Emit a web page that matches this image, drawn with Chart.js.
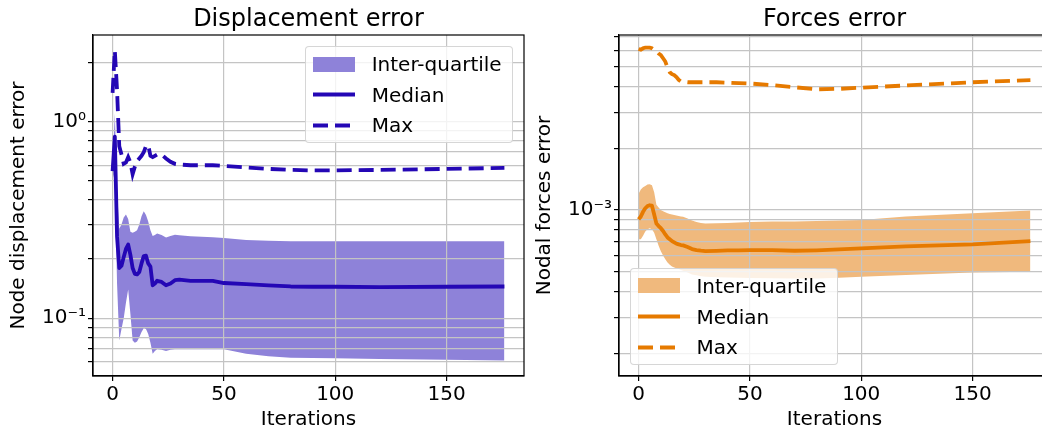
<!DOCTYPE html>
<html>
<head>
<meta charset="utf-8">
<script src="https://cdn.jsdelivr.net/npm/chart.js@4.4.1/dist/chart.umd.min.js"></script>
<style>
  html, body { margin: 0; padding: 0; background: #fff; overflow: hidden; }
  #page { position: relative; width: 1042px; height: 432px; overflow: hidden; }
  .box { position: absolute; top: 0; width: 526px; height: 432px; }
  .legend { position: absolute; box-sizing: border-box; border: 1px solid rgba(204,204,204,0.8);
            border-radius: 4px; background: rgba(255,255,255,0.8); padding-top: 2.2px;
            font-family: 'DejaVu Sans'; font-size: 20px; color: #000; }
  .legend .row { display: flex; align-items: center; height: 30.6px; white-space: nowrap; }
  .legend svg { margin-left: 7px; margin-right: 16.7px; flex: none; }
</style>
</head>
<body>
<div id="page">
  <div class="box" style="left:0"><canvas id="disp" width="526" height="432"></canvas><div class="legend" id="dispLegend"></div></div>
  <div class="box" style="left:526px"><canvas id="force" width="526" height="432"></canvas><div class="legend" id="forceLegend"></div></div>
</div>
<script>
// iterations where values were read
const iterations = [0,1,2,3,4,5,6,7,8,9,10,11,12,13,14,15,16,17,18,19,20,
  22,24,26,28,30,35,40,45,50,60,70,80,90,100,120,150,176];

// Node displacement error
const dispMax = [1.40,2.3,1.45,0.75,0.68,0.61,0.62,0.66,0.62,0.54,0.59,0.63,0.65,0.67,0.70,0.75,0.76,0.67,0.66,0.67,0.68,
  0.68,0.65,0.625,0.61,0.605,0.60,0.60,0.60,0.595,0.585,0.575,0.568,0.565,0.565,0.568,0.575,0.582];
const dispMedian = [0.56,0.84,0.26,0.18,0.185,0.205,0.225,0.237,0.21,0.18,0.168,0.167,0.172,0.19,0.207,0.208,0.19,0.183,0.147,0.15,0.155,
  0.153,0.147,0.15,0.156,0.157,0.155,0.155,0.155,0.151,0.149,0.147,0.145,0.1445,0.1445,0.144,0.1445,0.145];
const dispQ3 = [0.6,1.1,0.45,0.285,0.30,0.325,0.337,0.32,0.275,0.272,0.275,0.28,0.30,0.33,0.35,0.335,0.31,0.28,0.262,0.265,0.27,
  0.265,0.257,0.262,0.266,0.264,0.261,0.26,0.258,0.256,0.25,0.248,0.246,0.246,0.246,0.246,0.246,0.246];
const dispQ1 = [0.55,0.5,0.15,0.077,0.088,0.10,0.12,0.14,0.105,0.077,0.075,0.076,0.08,0.085,0.089,0.088,0.083,0.075,0.066,0.068,0.0694,
  0.069,0.068,0.069,0.0694,0.0694,0.0694,0.0694,0.0694,0.0694,0.066,0.064,0.063,0.0627,0.0625,0.062,0.0615,0.061];

// Nodal forces error
const forceMax = [6.1e-3,6.05e-3,6.15e-3,6.2e-3,6.2e-3,6.2e-3,6.15e-3,6.05e-3,5.95e-3,5.8e-3,5.7e-3,5.5e-3,5.3e-3,4.95e-3,4.7e-3,4.6e-3,4.55e-3,4.45e-3,4.32e-3,4.24e-3,4.22e-3,
  4.2e-3,4.2e-3,4.2e-3,4.2e-3,4.2e-3,4.2e-3,4.18e-3,4.16e-3,4.14e-3,4.07e-3,3.97e-3,3.88e-3,3.9e-3,3.95e-3,4.05e-3,4.2e-3,4.3e-3];
const forceMedian = [9.0e-4,9.3e-4,9.8e-4,1.02e-3,1.045e-3,1.055e-3,1.05e-3,9.5e-4,8.6e-4,8.35e-4,8.15e-4,7.9e-4,7.6e-4,7.35e-4,7.2e-4,7.05e-4,6.95e-4,6.85e-4,6.8e-4,6.75e-4,6.72e-4,
  6.6e-4,6.45e-4,6.38e-4,6.33e-4,6.3e-4,6.32e-4,6.35e-4,6.36e-4,6.37e-4,6.37e-4,6.33e-4,6.36e-4,6.42e-4,6.5e-4,6.65e-4,6.8e-4,7.05e-4];
const forceQ3 = [1.2e-3,1.26e-3,1.29e-3,1.31e-3,1.33e-3,1.335e-3,1.32e-3,1.22e-3,1.06e-3,1.03e-3,1.0e-3,9.85e-4,9.75e-4,9.65e-4,9.55e-4,9.5e-4,9.45e-4,9.4e-4,9.35e-4,9.3e-4,9.28e-4,
  9.1e-4,8.9e-4,8.75e-4,8.65e-4,8.6e-4,8.62e-4,8.65e-4,8.7e-4,8.75e-4,8.78e-4,8.8e-4,8.85e-4,8.88e-4,8.95e-4,9.3e-4,9.65e-4,9.95e-4];
const forceQ1 = [7.2e-4,7.2e-4,7.5e-4,7.85e-4,8.05e-4,8.15e-4,8.05e-4,7.75e-4,7.2e-4,6.7e-4,6.3e-4,6.0e-4,5.75e-4,5.55e-4,5.4e-4,5.3e-4,5.25e-4,5.2e-4,5.15e-4,5.1e-4,5.05e-4,
  4.95e-4,4.85e-4,4.8e-4,4.75e-4,4.72e-4,4.7e-4,4.68e-4,4.67e-4,4.66e-4,4.65e-4,4.64e-4,4.64e-4,4.67e-4,4.72e-4,4.82e-4,4.95e-4,5.0e-4];

// ticks
const xTicks = [0, 50, 100, 150];
const dispYTicks = [0.06,0.07,0.08,0.09,0.1,0.2,0.3,0.4,0.5,0.6,0.7,0.8,0.9,1,2];
const dispYLabels = { '1': '10⁰', '0.1': '10⁻¹' };
const forceYTicks = [2e-4,3e-4,4e-4,5e-4,6e-4,7e-4,8e-4,9e-4,1e-3,2e-3,3e-3,4e-3,5e-3,6e-3,7e-3];
const forceYLabels = { '0.001': '10⁻³' };

Chart.defaults.font.family = "'DejaVu Sans'";
Chart.defaults.color = '#000';

const gridColor = '#c4c4c4';

// box round the plot, like the matplotlib spines
const framePlugin = {
  id: 'frame',
  afterDraw(chart) {
    const { ctx, chartArea: a } = chart;
    ctx.save();
    ctx.strokeStyle = '#000';
    ctx.lineWidth = 1.2;
    ctx.strokeRect(a.left, a.top, a.right - a.left, a.bottom - a.top);
    ctx.restore();
  }
};

function makeChart(id, o) {
  return new Chart(document.getElementById(id), {
    type: 'line',
    data: {
      labels: iterations,
      datasets: [
        { label: 'Max', data: o.max, borderColor: o.line, borderWidth: 3.8, borderDash: [15, 7], pointRadius: 0, fill: false, tension: 0 },
        { label: 'Median', data: o.median, borderColor: o.line, borderWidth: 3.8, pointRadius: 0, fill: false, tension: 0, borderJoinStyle: 'round' },
        { label: 'Inter-quartile', data: o.q3, borderColor: 'rgba(0,0,0,0)', borderWidth: 0, backgroundColor: o.band, pointRadius: 0, fill: '+1', tension: 0 },
        { label: 'q1', data: o.q1, borderColor: 'rgba(0,0,0,0)', borderWidth: 0, pointRadius: 0, fill: false, tension: 0 }
      ]
    },
    options: {
      responsive: false,
      animation: false,
      devicePixelRatio: 1,
      layout: { padding: { left: 0, right: 2, top: 0, bottom: 0 } },
      plugins: {
        legend: { display: false },
        tooltip: { enabled: false },
        filler: { drawTime: 'beforeDraw' },
        title: {
          display: true, text: o.title, fullSize: false, color: '#000',
          font: { size: 24, weight: 'normal' }, padding: { top: 5.6, bottom: 0.6 }
        }
      },
      scales: {
        x: {
          type: 'linear', min: -8.8, max: 184.8,
          afterBuildTicks: s => { s.ticks = xTicks.map(v => ({ value: v })); },
          afterFit: s => { s.height = 56; },
          ticks: { font: { size: 20 }, padding: 2, maxRotation: 0, color: '#000' },
          grid: { color: gridColor, lineWidth: 1.2, tickLength: 5, tickColor: '#000' },
          border: { color: '#000', width: 1.2 },
          title: { display: true, text: 'Iterations', color: '#000', font: { size: 20 }, padding: 0 }
        },
        y: {
          type: 'logarithmic', min: o.yMin, max: o.yMax,
          afterBuildTicks: s => { s.ticks = o.yTicks.map(v => ({ value: v })); },
          afterFit: s => { s.width = 93; },
          ticks: { autoSkip: false, font: { size: 20 }, padding: 2, color: '#000',
                   callback: v => o.yLabels[String(v)] || '' },
          grid: { color: gridColor, lineWidth: 1.2, tickLength: 5, tickColor: '#000' },
          border: { color: '#000', width: 1.2 },
          title: { display: true, text: o.yTitle, color: '#000', font: { size: 20 }, padding: { top: 6.7, bottom: 0 } }
        }
      }
    },
    plugins: [framePlugin]
  });
}

// html legend in the matplotlib style
function buildLegend(chart, el, place) {
  const rows = ['Inter-quartile', 'Median', 'Max'].map(name => {
    const ds = chart.data.datasets.find(d => d.label === name);
    let mark;
    if (name === 'Inter-quartile') {
      mark = `<svg width="42" height="15"><rect width="42" height="15" fill="${ds.backgroundColor}"/></svg>`;
    } else {
      const dash = ds.borderDash ? `stroke-dasharray="${ds.borderDash.join(' ')}"` : '';
      mark = `<svg width="42" height="5"><line x1="0" y1="2.5" x2="42" y2="2.5" stroke="${ds.borderColor}" stroke-width="${ds.borderWidth}" ${dash}/></svg>`;
    }
    return `<div class="row">${mark}<span>${name}</span></div>`;
  });
  el.innerHTML = rows.join('');
  const a = chart.chartArea;
  el.style.width = '208px';
  el.style.height = '97.5px';
  if (place === 'upper right') {
    el.style.left = (a.right - 11 - 208) + 'px';
    el.style.top = (a.top + 10.7) + 'px';
  } else {
    el.style.left = (a.left + 10.7) + 'px';
    el.style.top = (a.bottom - 11 - 97.5) + 'px';
  }
}

const dispChart = makeChart('disp', {
  title: 'Displacement error', yTitle: 'Node displacement error',
  max: dispMax, median: dispMedian, q3: dispQ3, q1: dispQ1,
  line: '#2407b5', band: '#8e82d9',
  yMin: 0.0508, yMax: 2.76, yTicks: dispYTicks, yLabels: dispYLabels
});
const forceChart = makeChart('force', {
  title: 'Forces error', yTitle: 'Nodal forces error',
  max: forceMax, median: forceMedian, q3: forceQ3, q1: forceQ1,
  line: '#e67a00', band: '#f0b97d',
  yMin: 1.55e-4, yMax: 7.14e-3, yTicks: forceYTicks, yLabels: forceYLabels
});

buildLegend(dispChart, document.getElementById('dispLegend'), 'upper right');
buildLegend(forceChart, document.getElementById('forceLegend'), 'lower left');
</script>
</body>
</html>
